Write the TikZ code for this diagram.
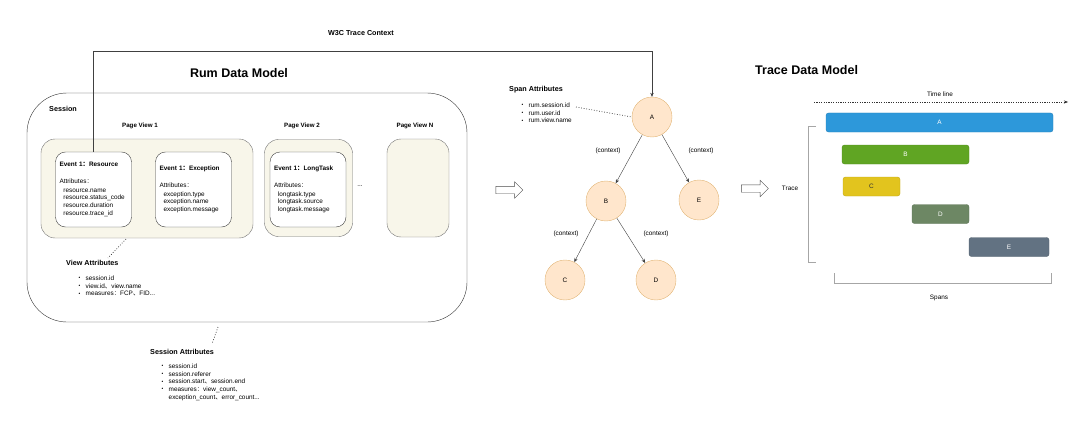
\documentclass[tikz,border=0pt]{standalone}
\usepackage{fontspec}
\setmainfont{Liberation Sans}
\newfontfamily\cjk{Noto Sans CJK SC}
\usetikzlibrary{arrows.meta, shapes.arrows}
\definecolor{pvfill}{RGB}{248,246,234}
\definecolor{spanfill}{RGB}{255,230,204}
\definecolor{spandraw}{RGB}{226,182,120}
\definecolor{barA}{RGB}{45,152,218}
\definecolor{barB}{RGB}{96,165,35}
\definecolor{barC}{RGB}{226,196,30}
\definecolor{barD}{RGB}{109,135,100}
\definecolor{barE}{RGB}{98,114,130}
\newcommand\fc{{\cjk ：}}
\newcommand\dn{{\cjk 、}}
\newcommand\itm{\makebox[7pt][l]{\raisebox{0.5pt}{\fontsize{5}{5}\selectfont\textbullet}}}

\begin{document}
\begin{tikzpicture}[x=1pt, y=-1pt,
    txt/.style={font=\fontsize{6.4}{7.7}\selectfont, inner sep=0pt},
    hd/.style={font=\bfseries\fontsize{7.2}{9}\selectfont, inner sep=0pt},
    pvl/.style={font=\bfseries\fontsize{6.2}{8}\selectfont, inner sep=0pt},
    ttl/.style={font=\bfseries\fontsize{12.5}{15}\selectfont, inner sep=0pt},
    pv/.style={draw=black!55, fill=pvfill, rounded corners=14pt, inner sep=0pt},
    evt/.style={draw=black!75, fill=white, rounded corners=10pt, minimum width=76pt,
      minimum height=75pt, text width=68pt, align=left, inner sep=0pt, txt},
    span/.style={circle, draw=spandraw, fill=spanfill, minimum size=40pt, inner sep=0pt, txt},
    bar/.style={rounded corners=2.5pt, minimum height=19pt, inner sep=0pt, txt, text=white},
    edge/.style={-{Stealth[length=4pt, width=3.4pt]}, black!75},
    dots/.style={dash pattern=on 0.8pt off 1.8pt, line width=0.7pt, black!80},
    hollow/.style={single arrow, draw=black!70, fill=white, minimum height=27pt,
      minimum width=16pt, single arrow head extend=4.5pt, inner ysep=3.5pt, inner xsep=0pt}]
  \useasboundingbox (0,0) rectangle (1080,428);

  % rum data model
  \node[ttl] (rumttl) at (239,73) {Rum Data Model};
  \node[draw=black!80, rounded corners=40pt, minimum width=440pt, minimum height=229pt] (session) at (247,207.5) {};
  \node[hd, anchor=west] (sesslbl) at (49,109) {Session};

  \node[pvl] (pv1lbl) at (140,126) {Page View 1};
  \node[pvl] (pv2lbl) at (302,126) {Page View 2};
  \node[pvl] (pvnlbl) at (415,126) {Page View N};
  \node[pv, minimum width=212pt, minimum height=99pt] (pv1) at (147,188.5) {};
  \node[pv, minimum width=88pt, minimum height=97pt] (pv2) at (308.5,188) {};
  \node[pv, minimum width=62pt, minimum height=98pt] (pvn) at (418,188) {};
  \node[txt] (more) at (360,186) {...};

  \node[evt] (res) at (93.5,189.5) {\textbf{Event 1\fc Resource}\\[9pt]Attributes\fc\\[1pt]
    \hspace*{4pt}resource.name\\ \hspace*{4pt}resource.status\_code\\
    \hspace*{4pt}resource.duration\\ \hspace*{4pt}resource.trace\_id};
  \node[evt] (exc) at (193.5,189.5) {\textbf{Event 1\fc Exception}\\[9pt]Attributes\fc\\[1pt]
    \hspace*{4pt}exception.type\\ \hspace*{4pt}exception.name\\ \hspace*{4pt}exception.message};
  \node[evt] (ltk) at (308,189.5) {\textbf{Event 1\fc LongTask}\\[9pt]Attributes\fc\\[1pt]
    \hspace*{4pt}longtask.type\\ \hspace*{4pt}longtask.source\\ \hspace*{4pt}longtask.message};

  \node[hd, anchor=west] (viewttl) at (66,263) {View Attributes};
  \node[txt, anchor=north west, align=left] (viewlist) at (78.5,275.5)
    {\itm session.id\\ \itm view.id\dn view.name\\ \itm measures\fc FCP\dn FID...};
  \coordinate (pv1dot) at (126,239);
  \coordinate (viewdot) at (108,258);
  \draw[dots] (pv1dot) -- (viewdot);

  \node[hd, anchor=west] (sessttl) at (150,352) {Session Attributes};
  \node[txt, anchor=north west, align=left] (sesslist) at (161.5,363.5)
    {\itm session.id\\ \itm session.referer\\ \itm session.start\dn session.end\\
     \itm measures\fc view\_count\dn\\ \hspace*{7pt}exception\_count\dn error\_count...};
  \coordinate (sessdot) at (218,327);
  \coordinate (sessend) at (212,344);
  \draw[dots] (sessdot) -- (sessend);

  % span tree
  \node[hd, anchor=west] (spanttl) at (509,90) {Span Attributes};
  \node[txt, anchor=north west, align=left] (spanlist) at (521.5,102.5)
    {\itm rum.session.id\\ \itm rum.user.id\\ \itm rum.view.name};
  \node[span] (A) at (652,117) {A};
  \node[span] (B) at (606,201) {B};
  \node[span] (E) at (699,200) {E};
  \node[span] (C) at (565,280) {C};
  \node[span] (D) at (656,280) {D};
  \draw[edge] (A) -- (B);
  \draw[edge] (A) -- (E);
  \draw[edge] (B) -- (C);
  \draw[edge] (B) -- (D);
  \node[txt] (ctxAB) at (608,151) {(context)};
  \node[txt] (ctxAE) at (701,151) {(context)};
  \node[txt] (ctxBC) at (566,234) {(context)};
  \node[txt] (ctxBD) at (656,234) {(context)};
  \coordinate (spandot) at (576,107);
  \draw[dots] (spandot) -- (A.west);

  \node[hd] (w3c) at (361,33) {W3C Trace Context};
  \coordinate (w3cturn) at (652,51);
  \draw[edge] (res.north) |- (w3cturn) -- (A.north);

  \node[hollow] (arr1) at (507.5,190) {};
  \node[hollow] (arr2) at (753,188.5) {};

  % trace data model
  \node[ttl, anchor=west] (tracettl) at (755,70) {Trace Data Model};
  \node[txt] (timelbl) at (940,94) {Time line};
  \coordinate (tl0) at (814,102);
  \coordinate (tl1) at (1068,102);
  \draw[dash pattern=on 1.2pt off 1.2pt, black!80, -{Stealth[length=4pt, width=3pt]}] (tl0) -- (tl1);

  \node[bar, fill=barA, draw=barA!85!black, minimum width=227pt] (barA) at (939.5,122.5) {A};
  \node[bar, fill=barB, draw=barB!85!black, minimum width=127pt] (barB) at (905.5,154.5) {B};
  \node[bar, fill=barC, draw=barC!85!black, minimum width=57pt, text=black!80] (barC) at (871.5,186.5) {C};
  \node[bar, fill=barD, draw=barD!85!black, minimum width=57pt] (barD) at (940.5,214) {D};
  \node[bar, fill=barE, draw=barE!85!black, minimum width=80pt] (barE) at (1009,247) {E};

  \draw[black!35] (816,126) -- (808,126) -- (808,262) -- (816,262);
  \node[txt] (tracelbl) at (790,188) {Trace};
  \draw[black!35] (834,273) -- (834,283) -- (1051,283) -- (1051,273);
  \node[txt] (spanslbl) at (939,298) {Spans};
\end{tikzpicture}
\end{document}
